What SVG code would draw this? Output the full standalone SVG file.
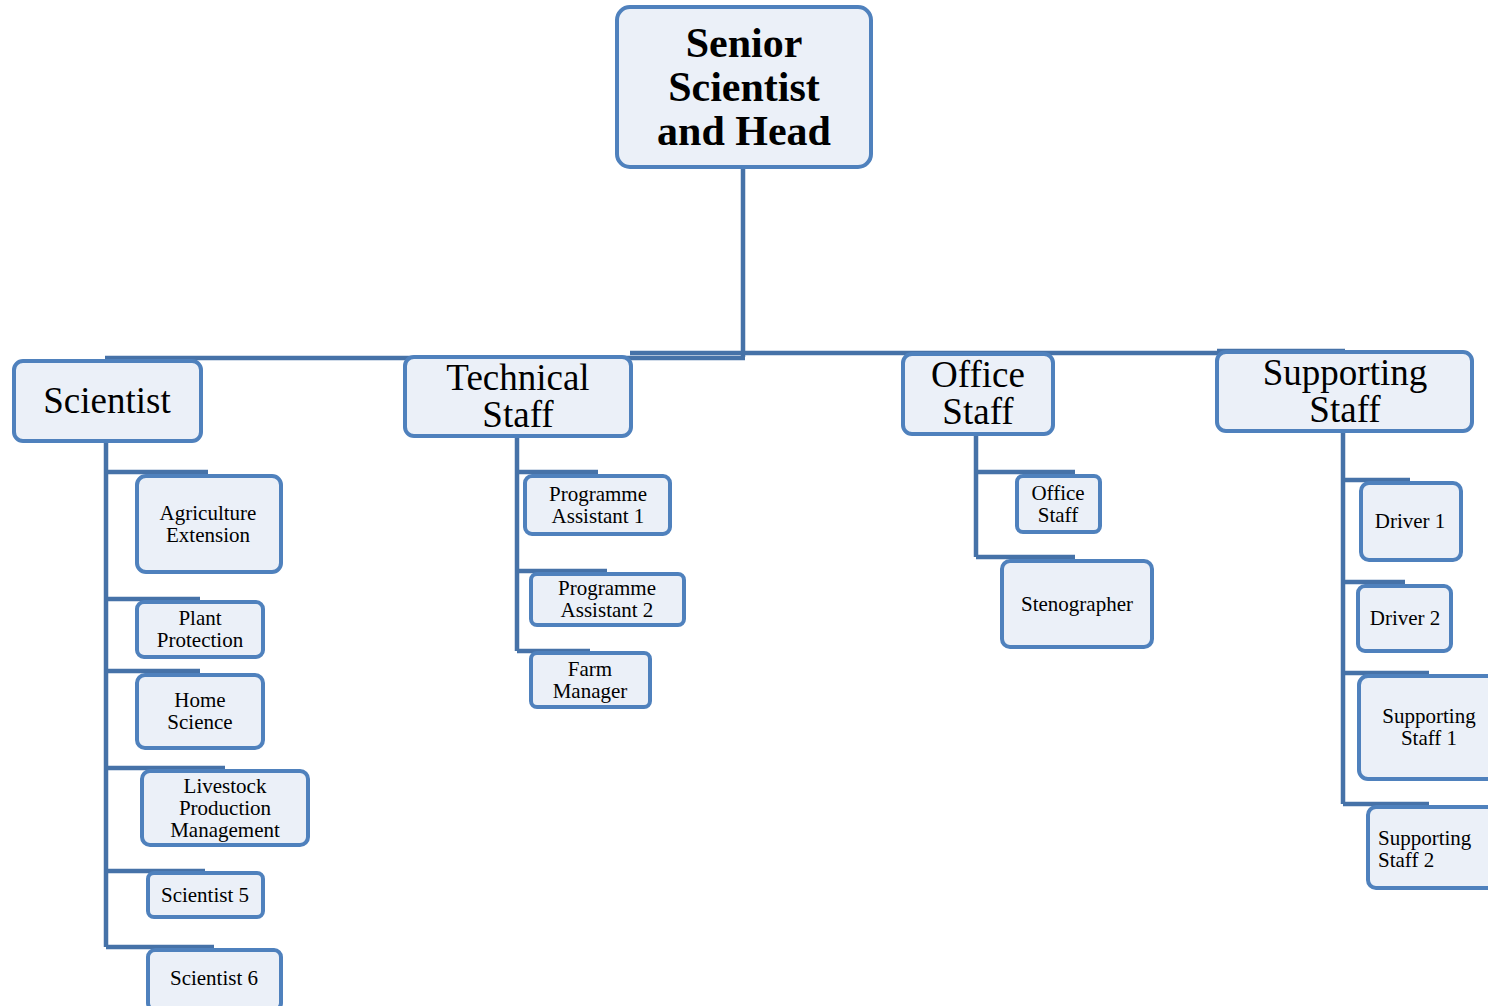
<svg xmlns="http://www.w3.org/2000/svg" width="1488" height="1006" viewBox="0 0 1488 1006">
<style>
.box{fill:#ebf0f8;stroke:#4f81bd;stroke-width:4}
.ln{fill:none;stroke:#4672a8;stroke-width:4.5}
text{font-family:"Liberation Serif","Times New Roman",serif;fill:#000;text-anchor:middle}
.t0{font-size:42px;font-weight:bold}
.t1{font-size:37px}
.t2{font-size:21px}
.st{text-anchor:start}
</style>
<rect width="1488" height="1006" fill="#fff"/>
<g id="connectors">
<path class="ln" d="M743,167 V357"/>
<path class="ln" d="M105,358 H745"/>
<path class="ln" d="M630,353 H1220 M1217,351 H1345"/>
<path class="ln" d="M106,441 V947 M106,472 H208 M106,599 H200 M106,671 H200 M106,768 H225 M106,871 H205 M106,947 H214"/>
<path class="ln" d="M517,436 V651 M517,472 H598 M517,571 H607 M517,651 H590"/>
<path class="ln" d="M976,434 V557 M976,472 H1075 M976,557 H1075"/>
<path class="ln" d="M1343,431 V804 M1343,480 H1410 M1343,582 H1405 M1343,673 H1429 M1343,804 H1429"/>
</g>
<g id="root"><rect class="box" x="617" y="7" width="254" height="160" rx="13"/>
<text class="t0" x="744" y="57">Senior</text><text class="t0" x="744" y="101">Scientist</text><text class="t0" x="744" y="145">and Head</text></g>
<g id="scientist"><rect class="box" x="14" y="361" width="187" height="80" rx="9"/><text class="t1" x="107" y="413">Scientist</text></g>
<g id="technical"><rect class="box" x="405" y="357" width="226" height="79" rx="9"/><text class="t1" x="518" y="390">Technical</text><text class="t1" x="518" y="427">Staff</text></g>
<g id="office"><rect class="box" x="903" y="354" width="150" height="80" rx="9"/><text class="t1" x="978" y="387">Office</text><text class="t1" x="978" y="424">Staff</text></g>
<g id="supporting"><rect class="box" x="1217" y="352" width="255" height="79" rx="9"/><text class="t1" x="1345" y="385">Supporting</text><text class="t1" x="1345" y="422">Staff</text></g>
<g id="agri"><rect class="box" x="137" y="476" width="144" height="96" rx="9"/><text class="t2" x="208" y="520">Agriculture</text><text class="t2" x="208" y="542">Extension</text></g>
<g id="plant"><rect class="box" x="137" y="602" width="126" height="55" rx="7"/><text class="t2" x="200" y="625">Plant</text><text class="t2" x="200" y="647">Protection</text></g>
<g id="home"><rect class="box" x="137" y="675" width="126" height="73" rx="8"/><text class="t2" x="200" y="707">Home</text><text class="t2" x="200" y="729">Science</text></g>
<g id="livestock"><rect class="box" x="142" y="771" width="166" height="74" rx="8"/><text class="t2" x="225" y="793">Livestock</text><text class="t2" x="225" y="815">Production</text><text class="t2" x="225" y="837">Management</text></g>
<g id="sci5"><rect class="box" x="148" y="873" width="115" height="44" rx="6"/><text class="t2" x="205" y="902">Scientist 5</text></g>
<g id="sci6"><rect class="box" x="148" y="950" width="133" height="60" rx="7"/><text class="t2" x="214" y="985">Scientist 6</text></g>
<g id="pa1"><rect class="box" x="525" y="476" width="145" height="58" rx="7"/><text class="t2" x="598" y="501">Programme</text><text class="t2" x="598" y="523">Assistant 1</text></g>
<g id="pa2"><rect class="box" x="531" y="574" width="153" height="51" rx="6"/><text class="t2" x="607" y="595">Programme</text><text class="t2" x="607" y="617">Assistant 2</text></g>
<g id="farm"><rect class="box" x="531" y="653" width="119" height="54" rx="6"/><text class="t2" x="590" y="676">Farm</text><text class="t2" x="590" y="698">Manager</text></g>
<g id="office2"><rect class="box" x="1017" y="476" width="83" height="56" rx="6"/><text class="t2" x="1058" y="500">Office</text><text class="t2" x="1058" y="522">Staff</text></g>
<g id="steno"><rect class="box" x="1002" y="561" width="150" height="86" rx="8"/><text class="t2" x="1077" y="611">Stenographer</text></g>
<g id="driver1"><rect class="box" x="1361" y="483" width="100" height="77" rx="8"/><text class="t2" x="1410" y="528">Driver 1</text></g>
<g id="driver2"><rect class="box" x="1358" y="586" width="93" height="65" rx="7"/><text class="t2" x="1405" y="625">Driver 2</text></g>
<g id="ss1"><rect class="box" x="1359" y="676" width="140" height="103" rx="9"/><text class="t2" x="1429" y="723">Supporting</text><text class="t2" x="1429" y="745">Staff 1</text></g>
<g id="ss2"><rect class="box" x="1368" y="807" width="130" height="81" rx="8"/><text class="t2 st" x="1378" y="845">Supporting</text><text class="t2 st" x="1378" y="867">Staff 2</text></g>
</svg>
